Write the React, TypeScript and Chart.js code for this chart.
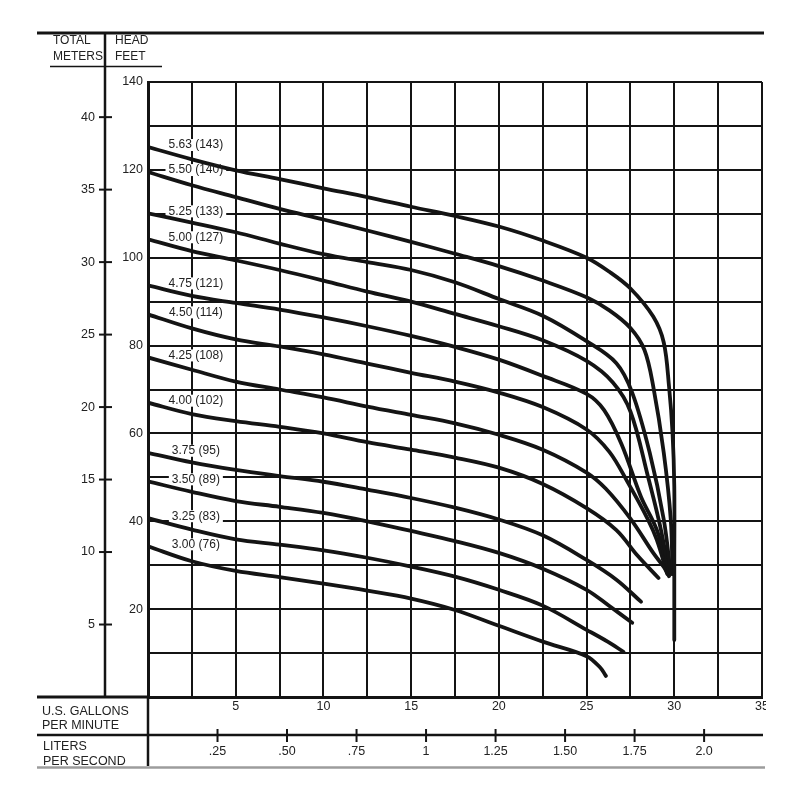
import React, { useEffect, useRef } from 'react';
import Chart from 'chart.js/auto';

// impeller diameter, inches (mm)
const trimLabels = [
  '5.63 (143)', '5.50 (140)', '5.25 (133)', '5.00 (127)', '4.75 (121)', '4.50 (114)',
  '4.25 (108)', '4.00 (102)', '3.75 (95)', '3.50 (89)', '3.25 (83)', '3.00 (76)',
];

// flow (US gpm) and total head (ft) per curve
const gpm563 = [0, 2.5, 5, 7.5, 10, 12.5, 15, 17.5, 20, 22.5, 25, 26.3, 27.5, 28.8, 29.4, 29.7, 29.9, 30, 30, 30];
const head563 = [125.2, 122.4, 119.9, 117.9, 115.8, 113.8, 111.6, 109.5, 107.1, 103.9, 100, 96.8, 93, 86.6, 80.7, 70.7, 60.2, 47.9, 30, 13];

const gpm550 = [0, 2.5, 5, 7.5, 10, 12.5, 15, 17.5, 20, 22.5, 25, 26.3, 27.5, 28.3, 28.8, 29.4, 29.8, 29.9];
const head550 = [119.5, 116.5, 113.8, 111.1, 108.7, 106.2, 103.6, 100.9, 98.1, 94.8, 91, 88, 84, 79, 70.7, 55.6, 40.4, 28];

const gpm525 = [0, 2.5, 5, 7.5, 10, 12.5, 15, 17.5, 20, 22.5, 25, 26.7, 27.6, 28.6, 29.4, 29.8];
const head525 = [110.1, 108, 105.8, 103.2, 100.8, 99, 97.2, 94.4, 90.6, 86.8, 81, 76, 69.3, 55.6, 40.4, 28];

const gpm500 = [0, 2.5, 5, 7.5, 10, 12.5, 15, 17.5, 20, 22.5, 25, 26.5, 27.5, 28.5, 29.2, 29.7];
const head500 = [104.2, 101.5, 99.4, 97.2, 94.8, 92.3, 90, 87.2, 84.4, 81.2, 76.5, 71.6, 65, 50.2, 38.8, 28.5];

const gpm475 = [0, 2.5, 5, 7.5, 10, 12.5, 15, 17.5, 20, 22.5, 25, 26, 27, 28.1, 29, 29.7];
const head475 = [93.7, 91.3, 89.7, 88.2, 86.4, 84.4, 82.2, 79.7, 76.8, 73.1, 69, 65.3, 57.5, 45.6, 38.1, 28.2];

const gpm450 = [0, 2.5, 5, 7.5, 10, 12.5, 15, 17.5, 20, 22.5, 25, 26.3, 27.3, 28.5, 29, 29.6];
const head450 = [87.1, 83.9, 81.4, 79.8, 78, 75.9, 73.8, 71.8, 69.3, 66, 60.9, 55.8, 49.2, 40.4, 35.8, 28];

const gpm425 = [0, 2.5, 5, 7.5, 10, 12.5, 15, 17.5, 20, 22.5, 25, 26.1, 27.5, 28.8, 29.4, 29.7];
const head425 = [77.3, 74.5, 71.8, 70, 68.2, 66.1, 64.2, 62.3, 59.7, 56.3, 51.1, 47.4, 40.6, 32.8, 29.6, 27.5];

const gpm400 = [0, 2.5, 5, 7.5, 10, 12.5, 15, 17.5, 20, 22.5, 25, 26.7, 27.9, 29.1];
const head400 = [67, 64.4, 62.8, 61.5, 60, 58, 56.3, 54.5, 52.2, 48.5, 43, 38, 32.2, 27.1];

const gpm375 = [0, 2.5, 5, 7.5, 10, 12.5, 15, 17.5, 20, 22.5, 25, 26.7, 28.1];
const head375 = [55.6, 53.4, 51.7, 50.3, 49, 47.2, 45.3, 43.1, 40.4, 36.8, 31.2, 26.7, 21.7];

const gpm350 = [0, 2.5, 5, 7.5, 10, 12.5, 15, 17.5, 20, 22.5, 25, 26.3, 27.6];
const head350 = [49.1, 46.7, 44.6, 43.3, 41.9, 40, 37.8, 35.5, 32.8, 29.2, 24.4, 20.7, 16.9];

const gpm325 = [0, 2.5, 5, 7.5, 10, 12.5, 15, 17.5, 20, 22.5, 25, 26.2, 27.1];
const head325 = [40.7, 38.1, 35.9, 34.7, 33.4, 31.7, 29.7, 27.4, 24.4, 20.8, 15.3, 12.6, 10.3];

const gpm300 = [0, 2.5, 5, 7.5, 10, 12.5, 15, 17.5, 20, 22.5, 25, 25.8, 26.1];
const head300 = [34.3, 30.9, 28.7, 27.3, 25.8, 24.2, 22.4, 19.8, 16.2, 12.6, 9.3, 6.6, 4.8];

const flows = [gpm563, gpm550, gpm525, gpm500, gpm475, gpm450, gpm425, gpm400, gpm375, gpm350, gpm325, gpm300];
const heads = [head563, head550, head525, head500, head475, head450, head425, head400, head375, head350, head325, head300];

// axis ticks
const gpmTicks = [5, 10, 15, 20, 25, 30, 35];
const feetTicks = [20, 40, 60, 80, 100, 120, 140];
const meterTicks = [5, 10, 15, 20, 25, 30, 35, 40];
const lpsTicks = [0.25, 0.5, 0.75, 1, 1.25, 1.5, 1.75, 2.0];
const lpsTickLabels = ['.25', '.50', '.75', '1', '1.25', '1.50', '1.75', '2.0'];

const FT_PER_M = 3.3; // as printed on the sheet
const GPM_PER_LPS = 15.85;

const FONT = '"Liberation Sans", Arial, sans-serif';
const INK = '#141414';
const TEXT = '#222';

const line = (ctx: CanvasRenderingContext2D, x1: number, y1: number, x2: number, y2: number, w: number, color = INK) => {
  ctx.beginPath();
  ctx.strokeStyle = color;
  ctx.lineWidth = w;
  ctx.moveTo(x1, y1);
  ctx.lineTo(x2, y2);
  ctx.stroke();
};

// curve label sits just over the start of its curve, near the 2.5 gpm line
const labelPos = (x: any, y: any, i: number) => [x.getPixelForValue(2.5) + 4, y.getPixelForValue(heads[i][0]) - 2];

const framePlugin = {
  id: 'pumpFrame',
  beforeDatasetsDraw(chart: any) {
    // white patches behind the curve labels, so the grid breaks around them
    const { ctx, scales: { x, y } } = chart;
    ctx.save();
    ctx.font = `12px ${FONT}`;
    trimLabels.forEach((t, i) => {
      const w = ctx.measureText(t).width;
      const [cx, cy] = labelPos(x, y, i);
      ctx.fillStyle = '#fff';
      ctx.fillRect(cx - w / 2 - 3, cy - 6, w + 6, 12);
    });
    ctx.restore();
  },
  afterDatasetsDraw(chart: any) {
    const { ctx, scales: { x, y } } = chart;
    ctx.save();
    ctx.font = `12px ${FONT}`;
    ctx.fillStyle = TEXT;
    ctx.textAlign = 'center';
    ctx.textBaseline = 'middle';
    trimLabels.forEach((t, i) => {
      const [cx, cy] = labelPos(x, y, i);
      ctx.fillText(t, cx, cy);
    });
    ctx.restore();
  },
  afterDraw(chart: any) {
    const { ctx, chartArea, scales: { x, y } } = chart;
    const { left, bottom } = chartArea;
    const edgeL = 37;
    const edgeR = 765;
    const meterCol = 105;
    ctx.save();

    // header
    line(ctx, edgeL, 33, edgeR - 1, 33, 3);
    line(ctx, meterCol, 33, meterCol, bottom, 2.5);
    line(ctx, 50, 66.5, 162, 66.5, 1.5);
    ctx.fillStyle = TEXT;
    ctx.font = `12px ${FONT}`;
    ctx.textBaseline = 'middle';
    ctx.textAlign = 'left';
    ctx.fillText('TOTAL', 53, 41);
    ctx.fillText('METERS', 53, 57);
    ctx.fillText('HEAD', 115, 41);
    ctx.fillText('FEET', 115, 57);

    // feet scale
    ctx.font = `12.5px ${FONT}`;
    ctx.textAlign = 'right';
    feetTicks.forEach((v) => ctx.fillText(String(v), left - 5, y.getPixelForValue(v)));

    // meters scale
    meterTicks.forEach((m) => {
      const py = y.getPixelForValue(m * FT_PER_M);
      line(ctx, meterCol - 6, py, meterCol + 7, py, 2);
      ctx.fillText(String(m), meterCol - 10, py);
    });

    // flow rows
    line(ctx, edgeL, bottom, left, bottom, 3);
    ctx.save();
    ctx.beginPath();
    ctx.rect(0, 0, edgeR + 1, 800);
    ctx.clip();
    ctx.textAlign = 'center';
    gpmTicks.forEach((v) => ctx.fillText(String(v), x.getPixelForValue(v), bottom + 10));
    ctx.restore();

    const lpsRow = 735;
    line(ctx, edgeL, lpsRow, edgeR - 2, lpsRow, 2.5);
    ctx.textAlign = 'center';
    lpsTicks.forEach((l, i) => {
      const px = x.getPixelForValue(l * GPM_PER_LPS);
      line(ctx, px, lpsRow - 6, px, lpsRow + 7, 2);
      ctx.fillText(lpsTickLabels[i], px, lpsRow + 16.5);
    });
    line(ctx, left, bottom, left, 766, 2.5);

    ctx.font = `12.5px ${FONT}`;
    ctx.textAlign = 'left';
    ctx.fillText('U.S. GALLONS', 42, 711.5);
    ctx.fillText('PER MINUTE', 42, 726);
    ctx.fillText('LITERS', 43, 747);
    ctx.fillText('PER SECOND', 43, 762);
    line(ctx, edgeL, 767.5, edgeR, 767.5, 2.5, '#9c9c9c');

    ctx.restore();
  },
};

const PumpCurveChart: React.FC = () => {
  const canvasRef = useRef<HTMLCanvasElement | null>(null);
  const chartRef = useRef<Chart | null>(null);

  useEffect(() => {
    if (!canvasRef.current) return;
    if (chartRef.current) chartRef.current.destroy();

    const datasets = flows.map((f, i) => ({
      label: trimLabels[i],
      data: f.map((q, j) => ({ x: q, y: heads[i][j] })),
      showLine: true,
      borderColor: INK,
      borderWidth: 3.8,
      borderCapStyle: 'round' as const,
      borderJoinStyle: 'round' as const,
      pointRadius: 0,
      tension: 0.35,
      fill: false,
    }));

    chartRef.current = new Chart(canvasRef.current, {
      type: 'scatter',
      data: { datasets },
      plugins: [framePlugin],
      options: {
        responsive: false,
        animation: false,
        events: [],
        layout: { padding: { left: 148, top: 82, right: 38, bottom: 103 } },
        plugins: { legend: { display: false }, tooltip: { enabled: false } },
        scales: {
          x: {
            type: 'linear',
            min: 0,
            max: 35,
            ticks: { display: false, stepSize: 2.5 },
            grid: { color: INK, lineWidth: 2, drawTicks: false },
            border: { color: INK, width: 3 },
          },
          y: {
            type: 'linear',
            min: 0,
            max: 140,
            ticks: { display: false, stepSize: 10 },
            grid: { color: INK, lineWidth: 2, drawTicks: false },
            border: { color: INK, width: 3 },
          },
        },
      },
    });

    return () => {
      if (chartRef.current) {
        chartRef.current.destroy();
        chartRef.current = null;
      }
    };
  }, []);

  return (
    <div style={{ position: 'absolute', left: 0, top: 0, width: 800, height: 800, background: '#fff' }}>
      <canvas ref={canvasRef} width={800} height={800} />
    </div>
  );
};

export default function App() {
  return <PumpCurveChart />;
}
